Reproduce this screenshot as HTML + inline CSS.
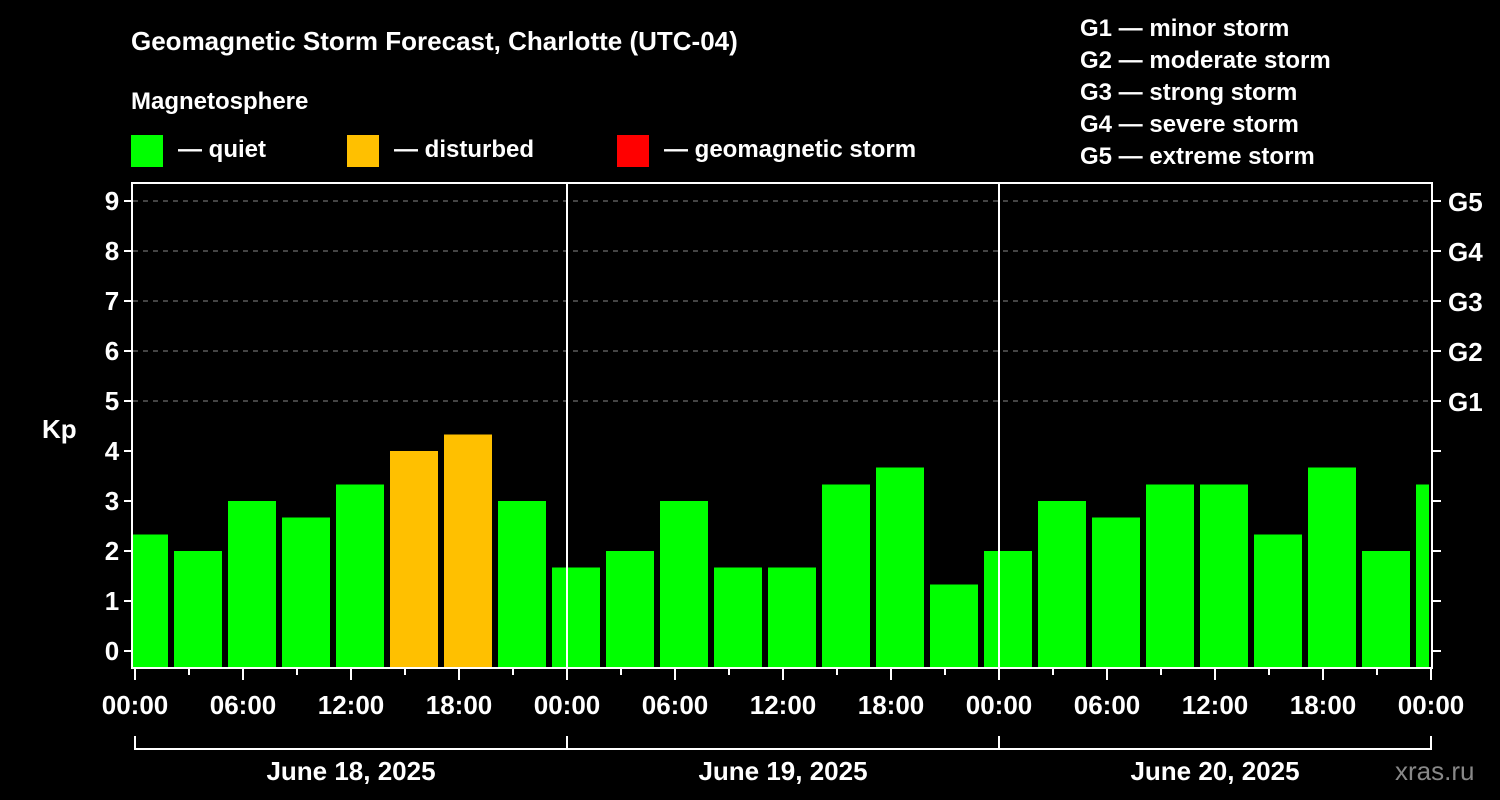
<!DOCTYPE html>
<html><head><meta charset="utf-8"><style>
body{margin:0;background:#000;}
svg{display:block;font-family:"Liberation Sans",Arial,sans-serif;font-weight:bold;}
</style></head><body>
<svg width="1500" height="800" viewBox="0 0 1500 800">
<rect width="1500" height="800" fill="#000"/>
<text x="131" y="50" fill="#fff" font-size="26">Geomagnetic Storm Forecast, Charlotte (UTC-04)</text>
<text x="131" y="109" fill="#fff" font-size="24">Magnetosphere</text>
<g><rect x="131" y="135" width="32" height="32" fill="#00ff00"/><text x="178" y="157" fill="#fff" font-size="24">— quiet</text></g>
<g><rect x="347" y="135" width="32" height="32" fill="#ffc000"/><text x="394" y="157" fill="#fff" font-size="24">— disturbed</text></g>
<g><rect x="617" y="135" width="32" height="32" fill="#ff0000"/><text x="664" y="157" fill="#fff" font-size="24">— geomagnetic storm</text></g>
<g fill="#fff" font-size="24">
<text x="1080" y="36">G1 — minor storm</text>
<text x="1080" y="68">G2 — moderate storm</text>
<text x="1080" y="100">G3 — strong storm</text>
<text x="1080" y="132">G4 — severe storm</text>
<text x="1080" y="164">G5 — extreme storm</text>
</g>
<text x="42" y="438" fill="#fff" font-size="26">Kp</text>
<text x="1395" y="780" fill="#888" font-size="26" font-weight="normal">xras.ru</text>
<defs><clipPath id="pc"><rect x="133" y="183" width="1296" height="485"/></clipPath></defs>
<g id="grid"></g>
<g id="bars" clip-path="url(#pc)"></g>
<g id="axes"></g>
</svg>
<script>
const kpValues=[2.33,2,3,2.67,3.33,4,4.33,3,1.67,2,3,1.67,1.67,3.33,3.67,1.33,2,3,2.67,3.33,3.33,2.33,3.67,2,3.33];
const yTicks=[0,1,2,3,4,5,6,7,8,9];
const gLabels=["","","","","","G1","G2","G3","G4","G5"];
const xTickLabels=["00:00","06:00","12:00","18:00","00:00","06:00","12:00","18:00","00:00","06:00","12:00","18:00","00:00"];
const dayLabels=["June 18, 2025","June 19, 2025","June 20, 2025"];
const NS="http://www.w3.org/2000/svg";
const y=v=>651-50*v;
const xh=h=>135+h*18; // hours from start
function mk(t,a,p){const e=document.createElementNS(NS,t);for(const k in a)e.setAttribute(k,a[k]);p.appendChild(e);return e;}
const grid=document.getElementById('grid'),bars=document.getElementById('bars'),axes=document.getElementById('axes');
yTicks.forEach((v,i)=>{
 if(v>=5){const l=mk('line',{x1:133,x2:1432,y1:y(v),y2:y(v),stroke:'#888','stroke-width':1,'stroke-dasharray':'5,5'},grid);
 
 }
 mk('line',{x1:124,x2:132,y1:y(v),y2:y(v),stroke:'#fff','stroke-width':2},axes);
 mk('line',{x1:1432,x2:1441,y1:y(v),y2:y(v),stroke:'#fff','stroke-width':2},axes);
 const t=mk('text',{x:112,y:y(v)+9,fill:'#fff','font-size':26,'text-anchor':'middle'},axes);t.textContent=v;
 
 
 if(gLabels[i]){const g=mk('text',{x:1448,y:y(v)+10,fill:'#fff','font-size':26},axes);g.textContent=gLabels[i];
 
 }
});
kpValues.forEach((v,k)=>{
 const c=v>=5?'#ff0000':(v>=4?'#ffc000':'#00ff00');
 const cx=xh(3*k+0.5);
 const r=mk('rect',{x:cx-24,y:y(v),width:48,height:668-y(v),fill:c},bars);
 
 
});
[1,2].forEach(d=>{mk('line',{x1:xh(24*d),x2:xh(24*d),y1:183,y2:668,stroke:'#fff','stroke-width':2},axes);});
const fr=mk('rect',{x:132,y:183,width:1300,height:485,fill:'none',stroke:'#fff','stroke-width':2},axes);


for(let h=0;h<=72;h+=3){const big=h%6==0;mk('line',{x1:xh(h),x2:xh(h),y1:668,y2:big?680:675,stroke:'#fff','stroke-width':2},axes);}
xTickLabels.forEach((s,i)=>{const t=mk('text',{x:xh(6*i*1),y:714,fill:'#fff','font-size':26,'text-anchor':'middle'},axes);
 t.setAttribute('x',xh(i*6));t.textContent=s;
 
 });
mk('polyline',{points:`${xh(0)},736 ${xh(0)},749 ${xh(72)},749 ${xh(72)},736`,fill:'none',stroke:'#fff','stroke-width':2},axes);
[1,2].forEach(d=>mk('line',{x1:xh(24*d),x2:xh(24*d),y1:736,y2:749,stroke:'#fff','stroke-width':2},axes));
dayLabels.forEach((s,d)=>{const t=mk('text',{x:xh(24*d+12),y:780,fill:'#fff','font-size':26,'text-anchor':'middle'},axes);t.textContent=s;
 
 });
</script>
</body></html>
